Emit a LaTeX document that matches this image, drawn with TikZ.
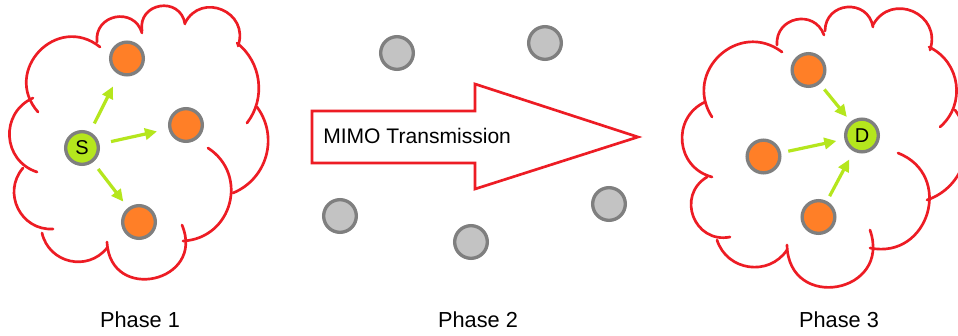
\documentclass[tikz,border=0pt]{standalone}
\usepackage{fontspec}
\setmainfont{Liberation Sans}
\usetikzlibrary{arrows.meta}
\definecolor{cloudred}{RGB}{237,28,36}
\definecolor{relayorange}{RGB}{255,127,39}
\definecolor{ringgray}{RGB}{127,127,127}
\definecolor{idlegray}{RGB}{195,195,195}
\definecolor{limegreen}{RGB}{181,230,29}
\tikzset{
  cloudline/.style={draw=cloudred, line width=2pt, line cap=round},
  relay/.style={circle, draw=ringgray, line width=2.5pt, fill=relayorange,
    minimum size=24.5pt, inner sep=0pt},
  idle/.style={relay, fill=idlegray},
  terminal/.style={relay, fill=limegreen, font=\fontsize{15}{15}\selectfont},
  link/.style={draw=limegreen, line width=2.4pt,
    -{Triangle[length=9pt,width=8.5pt]}},
  bigarrow/.style={draw=cloudred, line width=2pt, fill=white},
  label/.style={font=\fontsize{16.3}{18}\selectfont, anchor=base},
}
\begin{document}
\begin{tikzpicture}[x=0.75pt, y=-0.75pt]
\clip (0,0) rectangle (958,336);
\fill[white] (0,0) rectangle (958,336);

% ---------- left cloud ----------
\draw[cloudline] (38,112) to[bend left=85, looseness=1.56] (100,47);
\draw[cloudline] (97,42) to[bend left=85, looseness=1.56] (142,33);
\draw[cloudline] (142,31) to[bend left=90, looseness=1.7] (185,24);
\draw[cloudline] (185,23) to[bend left=86, looseness=1.59] (238,46);
\draw[cloudline] (237,43) to[bend left=45, looseness=0.99] (247,123);
\draw[cloudline] (257,107) to[bend left=52, looseness=1.06] (233,193);
\draw[cloudline] (208,148) to[bend left=72, looseness=1.31] (183,241);
\draw[cloudline] (182,225) to[bend left=100, looseness=2.06] (107,242);
\draw[cloudline] (107,248) to[bend left=64, looseness=1.19] (42,233);
\draw[cloudline] (53,229) to[bend left=67, looseness=1.22] (23,168);
\draw[cloudline] (37,172) to[bend left=69, looseness=1.26] (33,98);

% ---------- right cloud ----------
\draw[cloudline] (712,117) to[bend left=80, looseness=1.45] (782,52);
\draw[cloudline] (777,45) to[bend left=82, looseness=1.5] (824,35);
\draw[cloudline] (825,31) to[bend left=85, looseness=1.57] (873,27);
\draw[cloudline] (873,25) to[bend left=85, looseness=1.57] (930,50);
\draw[cloudline] (929,47) to[bend left=57, looseness=1.10] (940,127);
\draw[cloudline] (955,110) to[bend left=54, looseness=1.07] (927,200);
\draw[cloudline] (898,153) to[bend left=85, looseness=1.56] (870,248);
\draw[cloudline] (870,230) to[bend left=99, looseness=2.04] (787,245);
\draw[cloudline] (787,250) to[bend left=64, looseness=1.18] (717,240);
\draw[cloudline] (730,237) to[bend left=80, looseness=1.45] (707,177);
\draw[cloudline] (712,177) to[bend left=70, looseness=1.27] (705,102);

% ---------- big arrow ----------
\draw[bigarrow] (312,111) -- (475,111) -- (475,84) -- (638,137)
  -- (475,189) -- (475,163) -- (312,163) -- cycle;
\node[anchor=base west, font=\fontsize{15.8}{18}\selectfont, inner sep=0pt]
  (mimo) at (323,143) {MIMO Transmission};

% ---------- phase 1 ----------
\node[terminal] (S) at (82,148) {S};
\node[relay] (a1) at (127,58.5) {};
\node[relay] (a2) at (186,125) {};
\node[relay] (a3) at (139,222) {};
\draw[link, shorten <=7.1pt, shorten >=10pt] (S) -- (a1);
\draw[link, shorten <=8.8pt, shorten >=8.8pt] (S) -- (a2);
\draw[link, shorten <=6.4pt, shorten >=5.8pt] (S) -- (a3);

% ---------- phase 2 ----------
\node[idle] (g1) at (397,53) {};
\node[idle] (g2) at (545,43) {};
\node[idle] (g3) at (340,216) {};
\node[idle] (g4) at (471,242) {};
\node[idle] (g5) at (609,204) {};

% ---------- phase 3 ----------
\node[terminal] (D) at (862,135.5) {D};
\node[relay] (b1) at (808.5,70) {};
\node[relay] (b2) at (763.5,156.5) {};
\node[relay] (b3) at (818.5,217) {};
\draw[link, shorten <=5.3pt, shorten >=4.5pt] (b1) -- (D);
\draw[link, shorten <=5.5pt, shorten >=6.2pt] (b2) -- (D);
\draw[link, shorten <=4.2pt, shorten >=6.9pt] (b3) -- (D);

% ---------- labels ----------
\node[label] (p1) at (140,327) {Phase 1};
\node[label] (p2) at (478,327) {Phase 2};
\node[label] (p3) at (839,327) {Phase 3};
\end{tikzpicture}
\end{document}
